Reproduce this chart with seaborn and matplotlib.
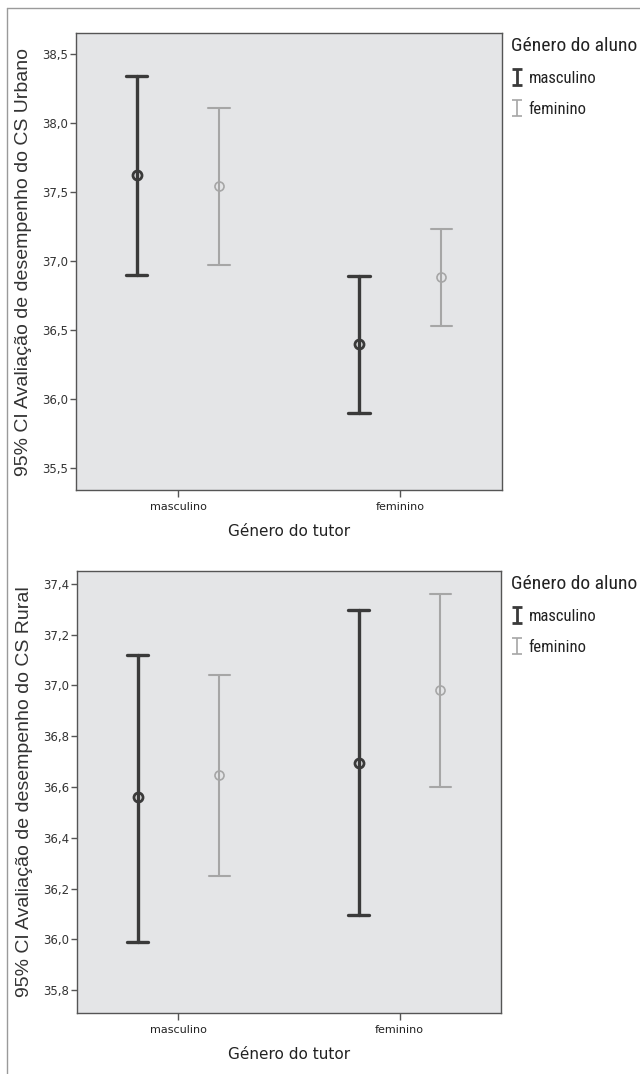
import numpy as np
import pandas as pd
import matplotlib
matplotlib.use("Agg")
import matplotlib.pyplot as plt
import matplotlib.font_manager as fm
from matplotlib.lines import Line2D
from matplotlib.ticker import FuncFormatter
from matplotlib.colors import to_hex
import seaborn as sns

# ---------------- data ----------------
tutor_levels = ["masculino", "feminino"]
aluno_levels = ["masculino", "feminino"]

# CS Urbano (per tutor gender: masculino, feminino)
urb_masc_mean = [37.62, 36.40]
urb_masc_lo = [36.90, 35.90]
urb_masc_hi = [38.34, 36.89]
urb_fem_mean = [37.54, 36.88]
urb_fem_lo = [36.97, 36.53]
urb_fem_hi = [38.11, 37.23]

# CS Rural
rur_masc_mean = [36.56, 36.695]
rur_masc_lo = [35.99, 36.095]
rur_masc_hi = [37.12, 37.295]
rur_fem_mean = [36.645, 36.98]
rur_fem_lo = [36.25, 36.60]
rur_fem_hi = [37.04, 37.36]

urb_yticks = [35.5, 36.0, 36.5, 37.0, 37.5, 38.0, 38.5]
rur_yticks = [35.8, 36.0, 36.2, 36.4, 36.6, 36.8, 37.0, 37.2, 37.4]

ylabel_urb = "95% CI Avaliação de desempenho do CS Urbano"
ylabel_rur = "95% CI Avaliação de desempenho do CS Rural"
xlabel = "Género do tutor"
legend_title = "Género do aluno"


def build_frame(m_mean, m_lo, m_hi, f_mean, f_lo, f_hi):
    rows = []
    for i, t in enumerate(tutor_levels):
        for a, (mn, lo, hi) in zip(aluno_levels,
                                     [(m_mean[i], m_lo[i], m_hi[i]),
                                      (f_mean[i], f_lo[i], f_hi[i])]):
            for v in (lo, mn, hi):
                rows.append({"tutor": t, "aluno": a, "valor": v})
    return pd.DataFrame(rows)


df_urb = build_frame(urb_masc_mean, urb_masc_lo, urb_masc_hi,
                     urb_fem_mean, urb_fem_lo, urb_fem_hi)
df_rur = build_frame(rur_masc_mean, rur_masc_lo, rur_masc_hi,
                     rur_fem_mean, rur_fem_lo, rur_fem_hi)

# ---------------- style ----------------
sns.set_style("ticks")
plt.rcParams["font.family"] = ["DejaVu Sans"]

# find a condensed / narrow font for the legend
narrow_path = None
cands = []
for f in fm.fontManager.ttflist:
    fn = f.fname.lower()
    name = f.name.lower()
    if ("narrow" in fn or "condensed" in fn or "narrow" in name
            or "condensed" in name or f.stretch in ("condensed", "semi-condensed", 500, 375)):
        if "bold" in fn or "italic" in fn or "oblique" in fn or "light" in fn:
            continue
        cands.append(f)
prio = ["liberationsansnarrow", "robotocondensed", "opensanscondensed",
        "notosanscondensed", "dejavusanscondensed"]
for p in prio:
    for f in cands:
        if p in f.fname.lower().replace("-", "").replace("_", "").replace(" ", ""):
            narrow_path = f.fname
            break
    if narrow_path:
        break
if narrow_path is None and cands:
    narrow_path = cands[0].fname

if narrow_path:
    leg_prop = fm.FontProperties(fname=narrow_path, size=12)
    leg_title_prop = fm.FontProperties(fname=narrow_path, size=14)
else:
    leg_prop = fm.FontProperties(family="DejaVu Sans", size=10.5)
    leg_title_prop = fm.FontProperties(family="DejaVu Sans", size=11.5)

DARK = "#3a3a3a"
LIGHT = "#a6a6a6"
BG = "#e4e5e7"
SPINE = "#555555"

W, H = 640, 1074
fig = plt.figure(figsize=(W / 100, H / 100), dpi=100)


def px_axes(l, t, r, b):
    return fig.add_axes([l / W, 1 - b / H, (r - l) / W, (b - t) / H])


ax1 = px_axes(76, 33, 502, 490)
ax2 = px_axes(77, 571, 501, 1013)

fmt = FuncFormatter(lambda v, p: f"{v:.1f}".replace(".", ","))


def draw(ax, df, ylim, yticks, ylabel):
    sns.pointplot(data=df, x="tutor", y="valor", hue="aluno",
                  order=tutor_levels, hue_order=aluno_levels,
                  estimator="median",
                  errorbar=lambda v: (v.min(), v.max()),
                  dodge=0.37, palette=[DARK, LIGHT], markers="o",
                  linestyles="none", capsize=0.095,
                  err_kws={"linewidth": 2.0},
                  markersize=6.5, markeredgewidth=1.8,
                  markerfacecolor="none", legend=False, ax=ax)
    for ln in ax.lines:
        c = to_hex(ln.get_color())
        if c == DARK:
            ln.set_linewidth(2.4)
            ln.set_markeredgewidth(2.0)
        else:
            ln.set_linewidth(1.5)
            ln.set_markeredgewidth(1.2)
        ln.set_markerfacecolor("none")
    ax.set_facecolor(BG)
    ax.set_xlim(-0.459, 1.459)
    ax.set_ylim(*ylim)
    ax.set_yticks(yticks)
    ax.yaxis.set_major_formatter(fmt)
    for s in ax.spines.values():
        s.set_color(SPINE)
        s.set_linewidth(1.0)
    ax.tick_params(axis="y", length=4.5, width=1, color=SPINE, pad=1,
                   labelsize=8.5, labelcolor="#333333")
    ax.tick_params(axis="x", length=5, width=1, color=SPINE, pad=3.5,
                   labelsize=8, labelcolor="#222222")
    ax.set_ylabel(ylabel, family=["Liberation Sans", "DejaVu Sans"],
                  fontsize=14, color="#333333")
    ax.yaxis.set_label_coords(-0.103, 0.5)
    ax.set_xlabel(xlabel, fontsize=11, color="#222222")
    ax.xaxis.set_label_coords(0.5, -0.074)


draw(ax1, df_urb, (35.34, 38.65), urb_yticks, ylabel_urb)
draw(ax2, df_rur, (35.71, 37.45), rur_yticks, ylabel_rur)
ax2.xaxis.set_label_coords(0.5, -0.077)


# legend handles: I-shaped error bars
def legend_handles(ax):
    hs = []
    for col, lw in [(DARK, 2.0), (LIGHT, 1.2)]:
        h = ax.errorbar([np.nan], [np.nan], yerr=[0.1], fmt="none",
                        ecolor=col, elinewidth=lw, capsize=3.5,
                        capthick=lw)
        hs.append(h)
    return hs


for ax, top in [(ax1, 37), (ax2, 575)]:
    hs = legend_handles(ax)
    leg = fig.legend(hs, aluno_levels, loc="upper left",
                     bbox_to_anchor=(511 / W, 1 - top / H),
                     frameon=False, borderpad=0, borderaxespad=0,
                     handlelength=0.7, handletextpad=0.35,
                     labelspacing=0.95, alignment="left",
                     title=legend_title,
                     prop=leg_prop, title_fontproperties=leg_title_prop)
    for t in leg.get_texts():
        t.set_color("#222222")
    leg.get_title().set_color("#222222")

# outer frame lines
fig.add_artist(Line2D([7 / W, 1.0], [1 - 8 / H, 1 - 8 / H],
                      transform=fig.transFigure, color="#9a9a9a", lw=1))
fig.add_artist(Line2D([7 / W, 7 / W], [0.0, 1 - 8 / H],
                      transform=fig.transFigure, color="#9a9a9a", lw=1))

fig.savefig("out.png", dpi=100, facecolor="white")
